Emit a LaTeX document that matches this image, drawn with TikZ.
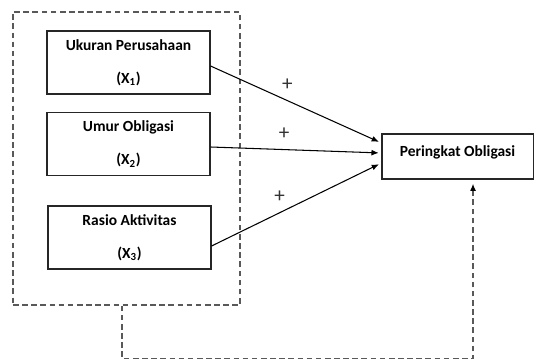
\documentclass[tikz,border=0pt]{standalone}
\usepackage{fontspec}
\setmainfont{Carlito}
\usetikzlibrary{arrows.meta, positioning, calc}
\tikzset{> = { Latex[length = 1.8mm, width = 1.5mm] }}
\tikzset{
  kotak/.style = {draw = black!85, line width = 0.75pt, rectangle, align = center,
    minimum width = 4.075cm, minimum height = 1.575cm, inner sep = 0pt,
    font = \bfseries\fontsize{11}{13}\selectfont},
  putus/.style = {draw = black!65, line width = 0.85pt, dash pattern = on 4pt off 2.5pt},
  panah/.style = {->, line width = 0.75pt, shorten > = 2pt},
  tanda/.style = {inner sep = 0pt, above = 7pt, text = black!80, font = \fontsize{15}{17}\selectfont}
}

\begin{document}
\begin{tikzpicture}[x = 0.025cm, y = -0.025cm]
		\useasboundingbox (0, 0) rectangle (536, 360);
		\node [putus, minimum width = 5.675cm, minimum height = 7.325cm] (grup) at (126.5, 158.5) {};
		\node [kotak] (ukuran) at (128.5, 62.5) {Ukuran Perusahaan\\[10.5pt](X\textsubscript{1})};
		\node [kotak] (umur) at (128.5, 144) {Umur Obligasi\\[10.5pt](X\textsubscript{2})};
		\node [kotak] (rasio) at (129.5, 237.5) {Rasio Aktivitas\\[10.5pt](X\textsubscript{3})};
		\node [kotak, minimum width = 3.775cm, minimum height = 1.125cm, text height = 7.5pt, text depth = 8.2pt] (peringkat) at (457.5, 156.5) {Peringkat Obligasi};

		\draw [panah] ([yshift = -0.0875cm]ukuran.east) -- node[tanda, pos = 0.45]{+} ([yshift = 0.3375cm]peringkat.west);
		\draw [panah] ([yshift = -0.075cm]umur.east) -- node[tanda, pos = 0.43]{+} ([yshift = 0.0875cm]peringkat.west);
		\draw [panah] ([yshift = -0.2125cm]rasio.east) -- node[tanda, pos = 0.40]{+} ([yshift = -0.1625cm]peringkat.west);

		\draw [putus, -{Latex[length = 1.8mm, width = 1.5mm, black]}, shorten > = 3pt] ([xshift = -0.1125cm]grup.south) -- ++(0, 53) -| ([xshift = 0.3875cm]peringkat.south);
	\end{tikzpicture}
\end{document}
